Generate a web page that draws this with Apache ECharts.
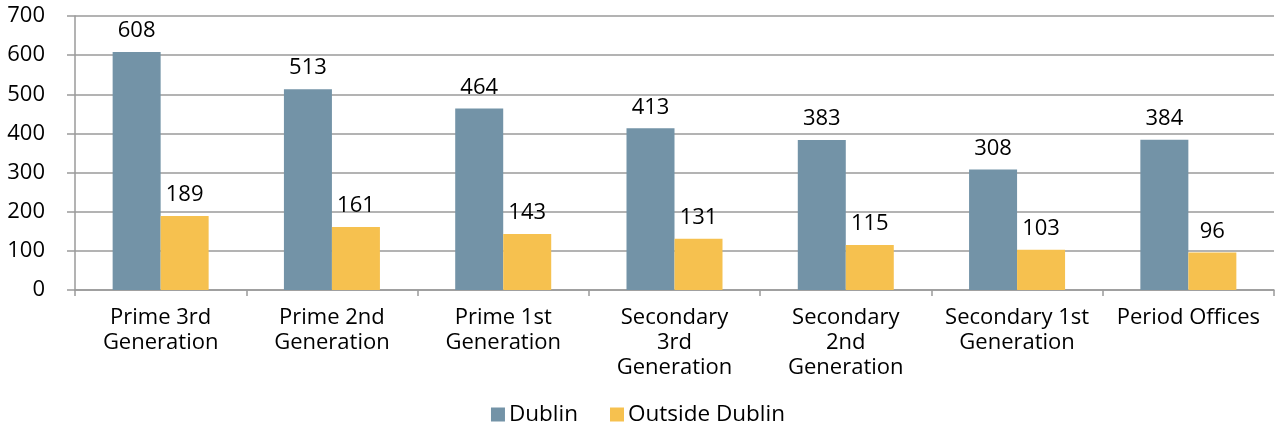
<!DOCTYPE html>
<html>
<head>
<meta charset="utf-8">
<script src="https://cdn.jsdelivr.net/npm/echarts@6/dist/echarts.min.js"></script>
<style>
  html, body { margin: 0; padding: 0; background: #ffffff; }
  #chart { width: 1276px; height: 429px; }
</style>
</head>
<body>
<div id="chart"></div>
<script>
// Office rents by grade, Dublin vs outside Dublin
const categories = [
  'Prime 3rd\nGeneration',
  'Prime 2nd\nGeneration',
  'Prime 1st\nGeneration',
  'Secondary\n3rd\nGeneration',
  'Secondary\n2nd\nGeneration',
  'Secondary 1st\nGeneration',
  'Period Offices'
];
const dublin = [608, 513, 464, 413, 383, 308, 384];
const outsideDublin = [189, 161, 143, 131, 115, 103, 96];
const seriesNames = ['Dublin', 'Outside Dublin'];

const FONT = '"Open Sans", "Noto Sans", sans-serif';
const gridColor = '#9a9a9a';
const textColor = '#000000';

const chart = echarts.init(document.getElementById('chart'), null, { renderer: 'canvas' });

const labelStyle = {
  show: true,
  position: 'top',
  distance: 10,
  color: textColor,
  fontFamily: FONT,
  fontSize: 22
};

chart.setOption({
  animation: false,
  backgroundColor: '#ffffff',
  grid: { left: 75, right: 2, top: 16, bottom: 139, containLabel: false },
  legend: {
    data: seriesNames,
    bottom: -2,
    left: 'center',
    itemWidth: 14,
    itemHeight: 14,
    itemGap: 32,
    icon: 'rect',
    textStyle: { fontFamily: FONT, fontSize: 22.5, color: textColor, padding: [0, 0, 0, -1] }
  },
  xAxis: {
    type: 'category',
    data: categories,
    axisLine: { lineStyle: { color: gridColor, width: 1.5 } },
    axisTick: { show: true, length: 6, lineStyle: { color: gridColor, width: 1.5 } },
    axisLabel: {
      interval: 0,
      margin: 15,
      fontFamily: FONT,
      fontSize: 22,
      lineHeight: 25,
      color: textColor
    }
  },
  yAxis: {
    type: 'value',
    min: 0,
    max: 700,
    interval: 100,
    axisLine: { show: true, lineStyle: { color: gridColor, width: 1.5 } },
    axisTick: { show: true, length: 8, lineStyle: { color: gridColor, width: 1.5 } },
    splitLine: { show: true, lineStyle: { color: gridColor, width: 1.5 } },
    axisLabel: {
      margin: 30,
      fontFamily: FONT,
      fontSize: 22,
      color: textColor
    }
  },
  series: [
    {
      name: seriesNames[0],
      type: 'bar',
      data: dublin,
      barWidth: 48,
      barGap: '0%',
      itemStyle: { color: '#7393a7' },
      label: labelStyle
    },
    {
      name: seriesNames[1],
      type: 'bar',
      data: outsideDublin,
      barWidth: 48,
      itemStyle: { color: '#f6c14f' },
      label: labelStyle
    }
  ]
});
</script>
</body>
</html>
